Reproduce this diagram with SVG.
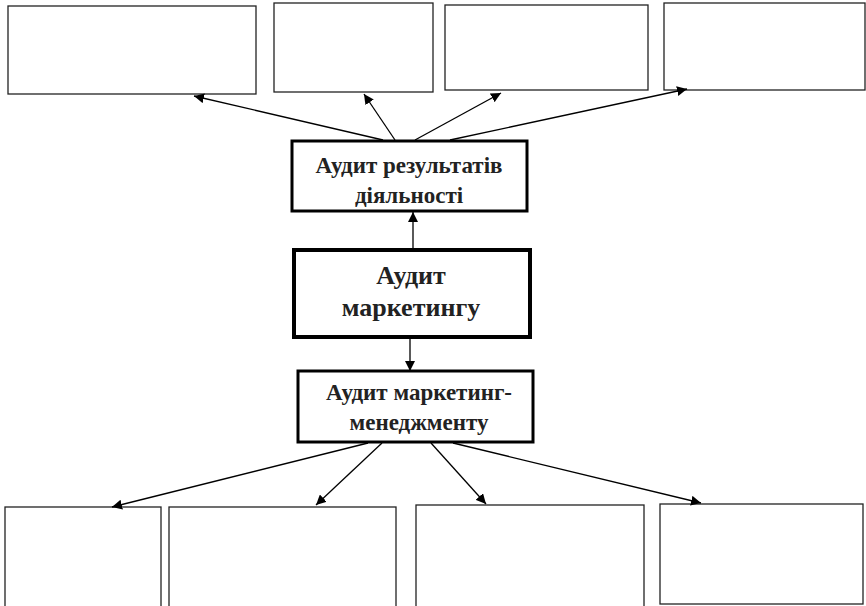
<svg xmlns="http://www.w3.org/2000/svg" width="866" height="606" viewBox="0 0 866 606">
<style>
.box{fill:#fff;stroke:#222;stroke-width:1.3}
.mid{fill:#fff;stroke:#000;stroke-width:3}
.main{fill:#fff;stroke:#000;stroke-width:4}
.t{font-family:"Liberation Serif","Times New Roman",serif;font-weight:bold;fill:#222;text-anchor:middle}
.c{stroke:#000;stroke-width:1.3;fill:none;marker-end:url(#ah)}
</style>
<defs>
<marker id="ah" viewBox="0 0 10 10" refX="10" refY="5" markerWidth="10" markerHeight="10" markerUnits="userSpaceOnUse" orient="auto">
<path d="M0,0 L10,5 L0,10 z" fill="#000"/>
</marker>
</defs>
<g id="top1"><rect class="box" x="8" y="6" width="248" height="88"/></g>
<g id="top2"><rect class="box" x="274" y="3" width="159" height="89"/></g>
<g id="top3"><rect class="box" x="445" y="5" width="203" height="85"/></g>
<g id="top4"><rect class="box" x="664" y="3" width="201" height="87"/></g>
<g id="results"><rect class="mid" x="292" y="141" width="235" height="70"/>
<text class="t" x="409" y="173" font-size="23">Аудит результатів</text>
<text class="t" x="409" y="203" font-size="23">діяльності</text></g>
<g id="marketing"><rect class="main" x="294" y="250" width="236" height="87"/>
<text class="t" x="411" y="284" font-size="26">Аудит</text>
<text class="t" x="411" y="316" font-size="26">маркетингу</text></g>
<g id="management"><rect class="mid" x="298" y="371" width="235" height="71"/>
<text class="t" x="419" y="400" font-size="23">Аудит маркетинг-</text>
<text class="t" x="419" y="430" font-size="23">менеджменту</text></g>
<g id="bot1"><rect class="box" x="5" y="507" width="156" height="110"/></g>
<g id="bot2"><rect class="box" x="169" y="507" width="227" height="110"/></g>
<g id="bot3"><rect class="box" x="416" y="505" width="228" height="110"/></g>
<g id="bot4"><rect class="box" x="660" y="504" width="203" height="100"/></g>
<g id="connectors">
<line class="c" x1="383" y1="140" x2="194" y2="96"/>
<line class="c" x1="395" y1="140" x2="364" y2="94"/>
<line class="c" x1="415" y1="140" x2="501" y2="93"/>
<line class="c" x1="450" y1="140" x2="687" y2="89"/>
<line class="c" x1="413" y1="249" x2="413" y2="212"/>
<line class="c" x1="410" y1="338" x2="410" y2="371"/>
<line class="c" x1="368" y1="443" x2="112" y2="507"/>
<line class="c" x1="382" y1="443" x2="316" y2="505"/>
<line class="c" x1="431" y1="443" x2="486" y2="504"/>
<line class="c" x1="453" y1="443" x2="701" y2="503"/>
</g>
</svg>
